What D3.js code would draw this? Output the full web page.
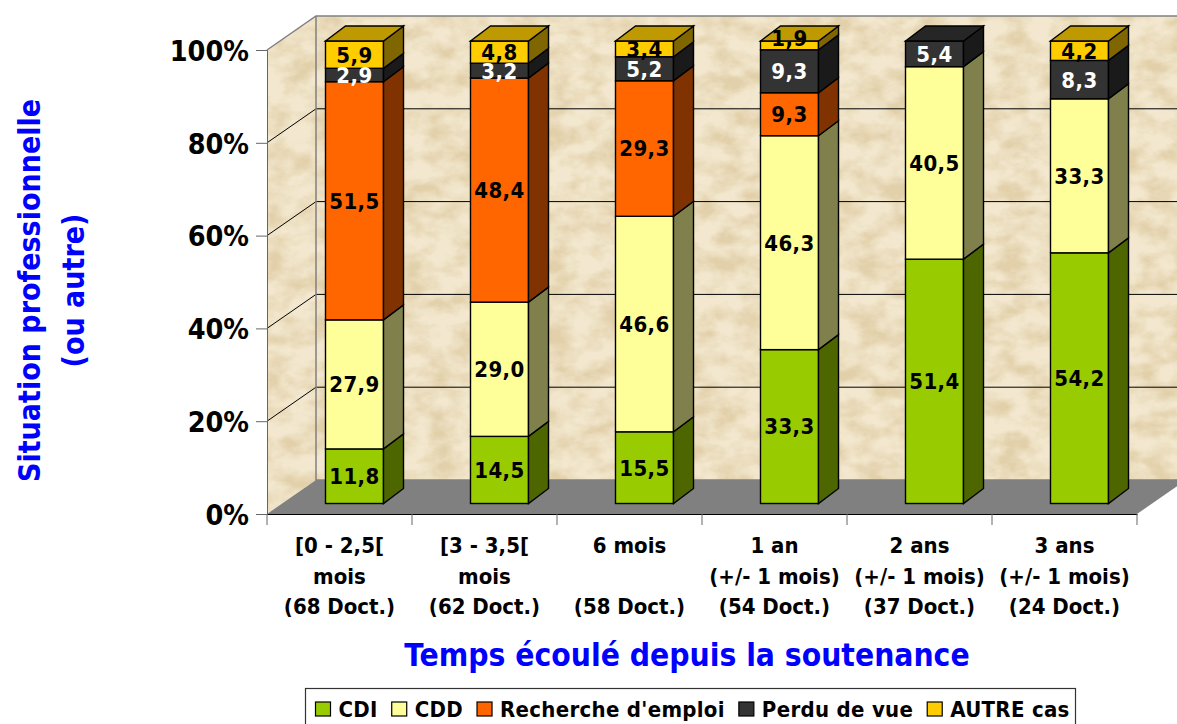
<!DOCTYPE html>
<html>
<head>
<meta charset="utf-8">
<script src="https://cdn.jsdelivr.net/npm/d3@7"></script>
<style>
html,body{margin:0;padding:0;background:#fff;overflow:hidden;}
svg text{font-family:"DejaVu Sans",sans-serif;font-weight:bold;font-stretch:condensed;}
</style>
</head>
<body>
<div id="chart"></div>
<script>
// data
var categories = ['[0 - 2,5[|mois|(68 Doct.)', '[3 - 3,5[|mois|(62 Doct.)', '6 mois||(58 Doct.)',
                  '1 an|(+/- 1 mois)|(54 Doct.)', '2 ans|(+/- 1 mois)|(37 Doct.)', '3 ans|(+/- 1 mois)|(24 Doct.)'];
var seriesNames = ['CDI', 'CDD', "Recherche d'emploi", 'Perdu de vue', 'AUTRE cas'];
var cdi   = [11.8, 14.5, 15.5, 33.3, 51.4, 54.2];
var cdd   = [27.9, 29.0, 46.6, 46.3, 40.5, 33.3];
var rech  = [51.5, 48.4, 29.3,  9.3,  0,    0];
var perdu = [ 2.9,  3.2,  5.2,  9.3,  5.4,  8.3];
var autre = [ 5.9,  4.8,  3.4,  1.9,  0,    4.2];
var yTicks = [0, 0.2, 0.4, 0.6, 0.8, 1];

var colors = ['#99cc00', '#ffff99', '#ff6600', '#333333', '#ffcc00'];
var labelColors = ['#000', '#000', '#000', '#fff', '#000'];
var allSeries = [cdi, cdd, rech, perdu, autre];

var W = 1177, H = 724;
var left = 267, right = 1137, bottom = 514, top_ = 50;
var wallDx = 49, wallDy = -34;   // depth of the box
var barDx = 15;                  // bars stand inside the box
var depthDx = 20, depthDy = -15; // depth of a bar
var blue = '#0000ff';

var svg = d3.select('#chart').append('svg').attr('width', W).attr('height', H).style('display', 'block');

var defs = svg.append('defs');
var f = defs.append('filter').attr('id', 'paper').attr('filterUnits', 'userSpaceOnUse')
  .attr('x', 0).attr('y', 0).attr('width', W).attr('height', H);
f.append('feTurbulence').attr('type', 'fractalNoise').attr('baseFrequency', '0.035 0.055').attr('numOctaves', 5).attr('seed', 4);
f.append('feColorMatrix').attr('type', 'matrix')
  .attr('values', '0 0 0 0 0.76  0 0 0 0 0.63  0 0 0 0 0.40  2.4 0 0 0 -0.82');
f.append('feComposite').attr('in2', 'SourceGraphic').attr('operator', 'in').attr('result', 'spots');
f.append('feMerge').call(function(m) {
  m.append('feMergeNode').attr('in', 'SourceGraphic');
  m.append('feMergeNode').attr('in', 'spots');
});

var x = d3.scaleBand().domain(categories).range([left, right]);
var y = d3.scaleLinear().domain([0, 1]).range([bottom, top_]);
var yBar = d3.scaleLinear().domain([0, 1]).range([503.5, 41]);
var barW = 58;

// walls and floor
var wall = svg.append('g');
wall.append('rect')
  .attr('x', left + wallDx).attr('y', top_ + wallDy)
  .attr('width', right - left + wallDx).attr('height', bottom - top_)
  .attr('fill', '#f3e8cf').attr('filter', 'url(#paper)');
wall.append('polygon')
  .attr('points', [[left, top_], [left + wallDx, top_ + wallDy], [left + wallDx, bottom + wallDy], [left, bottom]].join(' '))
  .attr('fill', '#f3e8cf').attr('filter', 'url(#paper)');
wall.append('polygon')
  .attr('points', [[left, bottom], [right, bottom], [right + wallDx, bottom + wallDy], [left + wallDx, bottom + wallDy]].join(' '))
  .attr('fill', '#808080');

// gridlines on the two walls
yTicks.slice(1, -1).forEach(function(t) {
  wall.append('path')
    .attr('d', d3.line()([[left, y(t)], [left + wallDx, y(t) + wallDy], [right + wallDx, y(t) + wallDy]]))
    .attr('fill', 'none').attr('stroke', '#000').attr('stroke-width', 1);
});
wall.append('path')
  .attr('d', d3.line()([[left, top_], [left + wallDx, top_ + wallDy], [right + wallDx, top_ + wallDy]]))
  .attr('fill', 'none').attr('stroke', '#808080').attr('stroke-width', 1.5);
wall.append('path')
  .attr('d', d3.line()([[left + wallDx, top_ + wallDy], [left + wallDx, bottom + wallDy], [right + wallDx, bottom + wallDy]]))
  .attr('fill', 'none').attr('stroke', '#808080').attr('stroke-width', 1.5);

// axes
var yAxis = svg.append('g').attr('transform', 'translate(' + left + ',0)')
  .call(d3.axisLeft(y).tickValues(yTicks).tickSize(11).tickFormat(d3.format('.0%')));
yAxis.selectAll('line,path').attr('stroke', '#666');
yAxis.selectAll('text').attr('font-size', 28.5).attr('fill', '#000').attr('x', -18).attr('dy', '0.36em')
  .style('font-family', '"DejaVu Sans"').style('font-weight', 'bold').style('font-stretch', 'condensed');

var xAxis = svg.append('g').attr('transform', 'translate(0,' + bottom + ')')
  .call(d3.axisBottom(x).tickSize(0).tickFormat(''));
xAxis.select('path').attr('stroke', '#000').attr('stroke-width', 1.2);
xAxis.selectAll('.ext').data(d3.range(categories.length + 1)).enter().append('line')
  .attr('x1', function(i) { return left + i * x.bandwidth(); })
  .attr('x2', function(i) { return left + i * x.bandwidth(); })
  .attr('y1', 0).attr('y2', 11).attr('stroke', '#666');
categories.forEach(function(c) {
  var t = xAxis.append('text').attr('text-anchor', 'middle').attr('font-size', 22).attr('fill', '#000');
  c.split('|').forEach(function(line, i) {
    t.append('tspan').attr('x', x(c) + x.bandwidth() / 2).attr('y', 39 + i * 30.5).text(line);
  });
});

// stacked bars, normalised to 100%
var rows = categories.map(function(c, i) {
  var r = {cat: c};
  seriesNames.forEach(function(n, s) { r[n] = allSeries[s][i]; });
  return r;
});
var stack = d3.stack().keys(seriesNames).offset(d3.stackOffsetExpand)(rows);

var poly = function(p) { return p.join(' '); };
var barX = function(c) { return x(c) + (x.bandwidth() - barW) / 2 + barDx; };

categories.forEach(function(c, i) {
  var bx = barX(c);
  var g = svg.append('g');
  var topS = -1;
  stack.forEach(function(st, s) {
    var d = st[i];
    if (d[1] - d[0] <= 0) return;
    topS = s;
    var y0 = yBar(d[0]), y1 = yBar(d[1]);
    g.append('rect').attr('x', bx).attr('y', y1).attr('width', barW).attr('height', y0 - y1)
      .attr('fill', colors[s]).attr('stroke', '#000').attr('stroke-width', 1.4);
    g.append('polygon')
      .attr('points', poly([[bx + barW, y1], [bx + barW + depthDx, y1 + depthDy], [bx + barW + depthDx, y0 + depthDy], [bx + barW, y0]]))
      .attr('fill', d3.interpolateRgb(colors[s], '#000')(0.5)).attr('stroke', '#000').attr('stroke-width', 1.4);
  });
  var yt = yBar(1);
  g.append('polygon')
    .attr('points', poly([[bx, yt], [bx + depthDx, yt + depthDy], [bx + barW + depthDx, yt + depthDy], [bx + barW, yt]]))
    .attr('fill', d3.interpolateRgb(colors[topS], '#000')(0.25)).attr('stroke', '#000').attr('stroke-width', 1.4);
});

// value labels go on top of everything
stack.forEach(function(st, s) {
  st.forEach(function(d, i) {
    var v = allSeries[s][i];
    if (!v) return;
    var h = yBar(d[0]) - yBar(d[1]);
    svg.append('text')
      .attr('x', barX(categories[i]) + barW / 2)
      // a very thin top slice pushes its label up onto the lid
      .attr('y', (yBar(d[0]) + yBar(d[1])) / 2 - (h < 10 ? 7 : 0))
      .attr('dy', '0.36em')
      .attr('text-anchor', 'middle')
      .attr('font-size', 22)
      .style('letter-spacing', '0.4px')
      .attr('fill', labelColors[s])
      .text(d3.format('.1f')(v).replace('.', ','));
  });
});

// titles
svg.append('text').attr('text-anchor', 'middle').attr('font-size', 31.5).attr('fill', blue)
  .attr('x', 687).attr('y', 666).text('Temps écoulé depuis la soutenance');
var yt = svg.append('text').attr('text-anchor', 'middle').attr('font-size', 30).attr('fill', blue)
  .attr('transform', 'translate(0,290.5) rotate(-90)');
yt.append('tspan').attr('x', 0).attr('y', 40).text('Situation professionnelle');
yt.append('tspan').attr('x', 0).attr('y', 84).text('(ou autre)');

// legend
var legend = svg.append('g');
legend.append('rect').attr('x', 305.5).attr('y', 688.5).attr('width', 770).attr('height', 42)
  .attr('fill', '#fff').attr('stroke', '#333').attr('stroke-width', 1.2);
var lx = 315.5;
seriesNames.forEach(function(n, s) {
  legend.append('rect').attr('x', lx).attr('y', 702).attr('width', 15).attr('height', 14)
    .attr('fill', colors[s]).attr('stroke', '#000').attr('stroke-width', 1.2);
  var t = legend.append('text').attr('x', lx + 23).attr('y', 717).attr('font-size', 22).attr('fill', '#000')
    .style('letter-spacing', '0.3px').text(n);
  lx += 23 + t.node().getComputedTextLength() + 14;
});
</script>
</body>
</html>
